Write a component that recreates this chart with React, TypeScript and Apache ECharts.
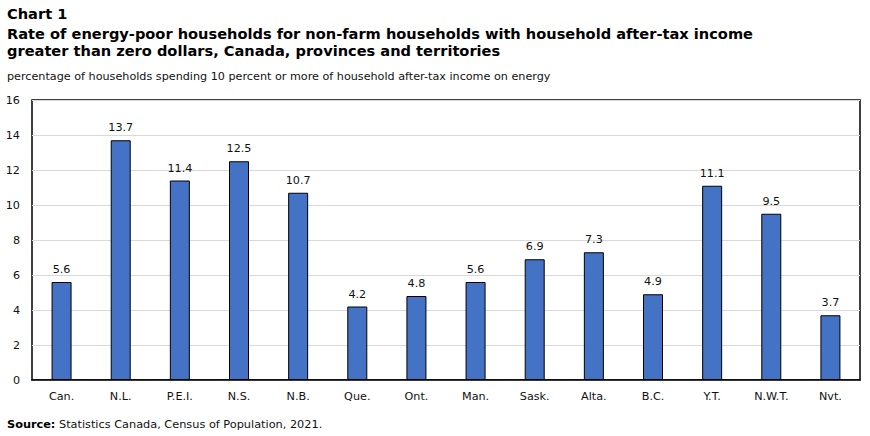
import React, { useEffect, useRef } from "react";
import * as echarts from "echarts";

const categories = ["Can.", "N.L.", "P.E.I.", "N.S.", "N.B.", "Que.", "Ont.", "Man.", "Sask.", "Alta.", "B.C.", "Y.T.", "N.W.T.", "Nvt."];
const energyPoorRate = [5.6, 13.7, 11.4, 12.5, 10.7, 4.2, 4.8, 5.6, 6.9, 7.3, 4.9, 11.1, 9.5, 3.7];
const yTicks = { min: 0, max: 16, interval: 2 };

const chartTitle = "Chart 1";
const titleLines = [
  "Rate of energy-poor households for non-farm households with household after-tax income",
  "greater than zero dollars, Canada, provinces and territories",
];
const unitNote = "percentage of households spending 10 percent or more of household after-tax income on energy";
const sourceText = "Statistics Canada, Census of Population, 2021.";

const FONT = "Verdana, 'DejaVu Sans', sans-serif";
const INK = "#111";

export default function App() {
  const ref = useRef<HTMLDivElement>(null);

  useEffect(() => {
    document.body.style.margin = "0";
    const chart = echarts.init(ref.current!, null, { renderer: "svg" });
    chart.setOption({
      animation: false,
      backgroundColor: "#fff",
      textStyle: { fontFamily: FONT },
      grid: {
        left: 32,
        right: 10,
        top: 100,
        bottom: 56,
        show: true,
        borderColor: "#000",
        borderWidth: 1.5,
        backgroundColor: "transparent",
      },
      xAxis: {
        type: "category",
        data: categories,
        axisLine: { show: true, lineStyle: { color: "#000", width: 1.5 } },
        axisTick: { show: false },
        axisLabel: { color: INK, fontSize: 11.2, fontFamily: FONT, margin: 11 },
      },
      yAxis: {
        type: "value",
        min: yTicks.min,
        max: yTicks.max,
        interval: yTicks.interval,
        axisLine: { show: false },
        axisTick: { show: false },
        axisLabel: { color: INK, fontSize: 11.2, fontFamily: FONT, margin: 12 },
        splitLine: { show: true, lineStyle: { color: "#d9d9d9", width: 1 } },
      },
      series: [
        {
          type: "bar",
          data: energyPoorRate,
          barWidth: 20,
          itemStyle: { color: "#4472c4", borderColor: "#000", borderWidth: 1 },
          label: {
            show: true,
            position: "top",
            distance: 7,
            color: INK,
            fontSize: 11.2,
            fontFamily: FONT,
            formatter: (p: any) => p.value.toFixed(1),
          },
        },
      ],
      graphic: [
        {
          type: "text",
          left: 7,
          top: 6,
          style: { text: chartTitle, font: `bold 14.6px ${FONT}`, fill: "#000" },
        },
        {
          type: "text",
          left: 7,
          top: 25,
          style: {
            text: titleLines.join("\n"),
            font: `bold 14.6px ${FONT}`,
            lineHeight: 17,
            fill: "#000",
          },
        },
        {
          type: "text",
          left: 7,
          top: 71,
          style: { text: unitNote, font: `11.2px ${FONT}`, fill: INK },
        },
        {
          type: "text",
          left: 7,
          top: 419,
          style: {
            text: "{b|Source:} " + sourceText,
            font: `11.3px ${FONT}`,
            fill: INK,
            rich: {
              b: { fontWeight: "bold", fontSize: 11.3, fontFamily: FONT, fill: "#000" },
            },
          },
        },
      ],
    });
    return () => chart.dispose();
  }, []);

  return <div ref={ref} style={{ width: 870, height: 436, position: "absolute", left: 0, top: 0 }} />;
}
